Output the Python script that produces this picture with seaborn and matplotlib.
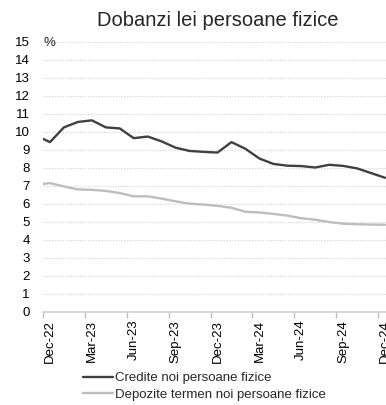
import matplotlib
matplotlib.use("Agg")
import matplotlib.pyplot as plt
import pandas as pd
import seaborn as sns

# Monthly interest rates on new RON business with households (%)
months = ["Nov-22", "Dec-22", "Jan-23", "Feb-23", "Mar-23", "Apr-23", "May-23",
          "Jun-23", "Jul-23", "Aug-23", "Sep-23", "Oct-23", "Nov-23", "Dec-23",
          "Jan-24", "Feb-24", "Mar-24", "Apr-24", "May-24", "Jun-24", "Jul-24",
          "Aug-24", "Sep-24", "Oct-24", "Nov-24", "Dec-24"]
credite = [9.77, 9.41, 10.23, 10.53, 10.62, 10.23, 10.17, 9.63, 9.72, 9.45,
           9.10, 8.92, 8.87, 8.83, 9.41, 9.04, 8.50, 8.20, 8.10, 8.08, 8.00,
           8.15, 8.09, 7.95, 7.69, 7.43]
depozite = [7.05, 7.13, 6.95, 6.78, 6.76, 6.70, 6.58, 6.40, 6.40, 6.27,
            6.12, 5.99, 5.94, 5.87, 5.76, 5.54, 5.50, 5.42, 5.33, 5.18, 5.10,
            4.97, 4.88, 4.85, 4.83, 4.82]
series_names = ["Credite noi persoane fizice", "Depozite termen noi persoane fizice"]
tick_labels = ["Dec-22", "Mar-23", "Jun-23", "Sep-23", "Dec-23",
               "Mar-24", "Jun-24", "Sep-24", "Dec-24"]
y_ticks = list(range(0, 16))

# Category axis: month i occupies [i, i+1] with Dec-22 starting at 0
first = months.index("Dec-22")
pos = [i - first + 0.5 for i in range(len(months))]

df = pd.concat([
    pd.DataFrame({"pos": pos, "val": credite, "serie": series_names[0]}),
    pd.DataFrame({"pos": pos, "val": depozite, "serie": series_names[1]}),
])

sns.set_theme(style="white")
plt.rcParams["font.family"] = ["Liberation Sans", "DejaVu Sans"]

fig = plt.figure(figsize=(3.86, 4.05), dpi=100)
ax = fig.add_axes([43 / 386, 93.5 / 405, 349 / 386, 270 / 405])

sns.lineplot(data=df, x="pos", y="val", hue="serie", hue_order=series_names,
             palette=["#404040", "#bdbdbd"], linewidth=1.7, sort=False, ax=ax)

ax.set_xlim(0, 25)
ax.set_ylim(0, 15)
ax.set_xlabel("")
ax.set_ylabel("")

# Horizontal dotted grid
ax.set_yticks(y_ticks)
ax.set_yticklabels([str(v) for v in y_ticks], fontsize=9.5, color="#000000")
ax.yaxis.grid(True, linestyle=(0, (1, 1.5)), color="#d0d0d0", linewidth=0.8)
ax.xaxis.grid(False)
ax.tick_params(axis="y", length=0, pad=9.5)

# Tick marks at quarter boundaries, labels centred on the month
ax.set_xticks([3 * k for k in range(len(tick_labels))])
ax.set_xticklabels([])
ax.set_xticks([3 * k + 0.5 for k in range(len(tick_labels))], minor=True)
ax.set_xticklabels(tick_labels, minor=True, rotation=90, fontsize=9.5, color="#000000")
ax.tick_params(axis="x", which="major", length=4, width=1, color="#bfbfbf", direction="out", bottom=True)
ax.tick_params(axis="x", which="minor", length=0, pad=6, bottom=True)

for side in ["left", "right", "top"]:
    ax.spines[side].set_visible(False)
ax.spines["bottom"].set_color("#d0d0d0")
ax.spines["bottom"].set_linewidth(1.2)

ax.annotate("%", xy=(0, 15), xytext=(1, -1), textcoords="offset pixels",
            ha="left", va="center", fontsize=9.5)

ax.set_title("Dobanzi lei persoane fizice", fontsize=14.5, pad=11)

handles, labels = ax.get_legend_handles_labels()
ax.get_legend().remove()
fig.legend(handles, labels, loc="upper left", bbox_to_anchor=(83 / 386, 1 - 372 / 405),
           frameon=False, fontsize=9.5, handlelength=2.3, handletextpad=0.15,
           labelspacing=0.35, borderpad=0, borderaxespad=0)

fig.savefig("out.png", dpi=100)
